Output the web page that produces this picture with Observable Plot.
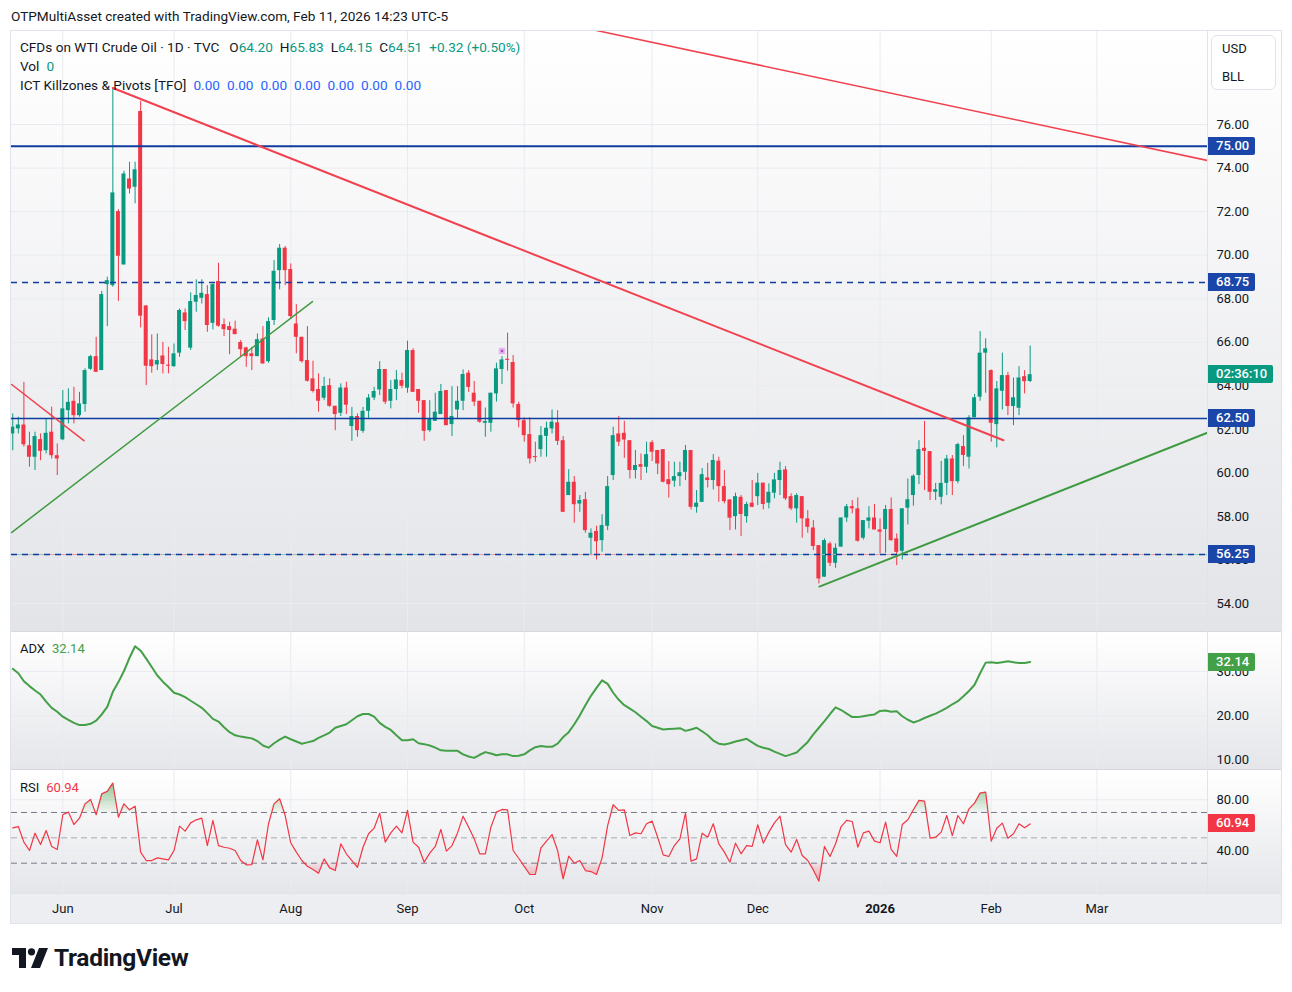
<!DOCTYPE html>
<html><head><meta charset="utf-8"><title>CFDs on WTI Crude Oil</title>
<script src="https://cdn.jsdelivr.net/npm/d3@7"></script>
<script src="https://cdn.jsdelivr.net/npm/@observablehq/plot@0.6"></script>
<style>
html,body{margin:0;padding:0;background:#fff;}
body{font-family:Roboto,"Liberation Sans","DejaVu Sans",sans-serif;color:#131722;}
#root{position:relative;width:1292px;height:992px;overflow:hidden;background:#fff;}
.a{position:absolute;}
.t{position:absolute;font-size:13px;line-height:16px;white-space:nowrap;color:#131722;}
.t.w{font-size:13.6px;}
.t span{margin-left:7px;}
.t span.n{margin-left:0;}
.badge{position:absolute;left:1208px;height:18px;line-height:18px;font-size:13px;color:#fff;padding:0 6px 0 8px;border-radius:0 2px 2px 0;white-space:nowrap;font-weight:500;}
</style></head>
<body><div id="root"></div>
<script>
// ---------------- DATA ----------------
const firstSession = "2025-05-19";
const closedDays = ["2025-05-26","2025-06-19","2025-07-03","2025-07-04","2025-09-01","2025-11-27","2025-12-25","2026-01-01","2026-01-19","2026-02-16"];
const monthNames = ["Jan","Feb","Mar","Apr","May","Jun","Jul","Aug","Sep","Oct","Nov","Dec"];

const open = [61.79,62.02,62.20,61.25,60.72,61.53,61.02,61.87,60.79,61.52,
62.86,63.29,62.63,63.14,64.76,65.34,64.70,68.65,68.60,72.00,
69.55,73.50,73.12,76.60,67.67,65.19,64.96,65.37,64.93,64.88,
65.50,67.35,65.73,67.84,68.02,68.19,66.87,68.79,66.81,66.72,
66.60,65.99,65.74,65.47,65.34,66.15,65.11,67.00,69.29,70.32,
69.34,66.84,66.23,65.16,64.32,63.83,63.43,64.01,63.06,62.74,
63.90,62.13,62.59,61.91,62.83,63.44,63.81,64.75,63.29,63.83,
64.24,63.89,65.62,63.83,63.32,61.94,62.37,62.68,63.78,62.22,
62.89,63.29,64.58,63.66,63.29,62.28,62.28,63.63,64.75,65.21,
65.07,63.14,62.40,61.76,60.74,61.07,61.68,62.02,62.30,61.48,
58.96,59.57,58.57,58.77,57.00,57.31,56.89,57.55,59.88,61.79,
61.82,61.48,60.11,60.38,60.26,61.39,61.03,61.07,59.69,59.62,
59.83,60.03,61.03,58.42,58.65,59.77,59.65,60.54,59.37,58.76,
57.99,58.88,57.99,58.61,58.91,59.53,58.61,59.07,59.65,60.14,
58.91,58.35,58.91,57.89,57.47,56.66,55.21,56.74,55.85,56.59,
57.93,58.45,58.35,57.00,57.78,57.93,57.38,57.40,58.32,56.97,
56.40,58.38,58.96,59.88,61.13,60.98,59.11,58.88,59.52,60.64,
59.60,61.21,60.72,62.53,63.48,65.50,64.70,62.22,63.75,64.47,
63.05,62.97,64.42,64.20];
const high = [62.71,62.56,64.16,61.87,61.87,61.79,62.48,63.02,61.33,63.78,
63.86,63.93,63.70,64.78,65.40,66.23,68.34,68.99,77.68,72.09,
73.86,74.27,74.27,77.07,67.67,66.34,66.38,66.00,65.77,65.92,
67.53,67.53,68.27,68.87,68.87,68.60,68.68,69.63,67.07,66.92,
66.97,66.08,65.77,65.77,66.38,66.72,67.12,69.75,70.49,70.40,
69.60,67.73,66.23,66.72,65.13,64.55,64.39,64.32,63.06,64.09,
64.17,63.01,62.71,63.01,63.60,63.93,65.11,64.75,64.24,64.70,
64.58,66.05,65.70,63.83,63.32,63.32,63.66,64.06,63.78,63.96,
63.96,64.73,64.70,64.20,63.29,62.98,63.66,65.04,65.34,66.42,
65.39,63.25,62.53,62.53,61.41,62.13,62.33,62.89,62.86,61.67,
60.15,59.83,58.96,59.11,57.43,57.55,58.08,59.83,62.10,62.59,
62.37,61.48,61.03,60.87,61.41,61.48,61.03,61.07,60.52,60.49,
60.49,61.26,61.03,59.19,60.20,60.44,60.84,60.72,60.11,58.76,
59.07,58.96,58.65,59.65,59.98,59.53,59.50,59.98,60.49,60.29,
59.04,59.04,58.91,58.27,57.81,56.66,56.97,56.82,56.74,57.93,
58.55,58.73,58.85,57.81,58.45,58.55,57.89,58.50,58.85,57.20,
58.35,59.72,59.91,61.48,62.36,60.98,59.52,60.53,60.80,60.80,
61.36,61.71,62.63,63.60,66.49,66.16,64.73,64.20,65.50,64.62,
64.36,64.88,64.70,65.83];
const low = [61.02,61.79,61.18,60.26,60.11,60.56,60.87,60.64,59.88,61.48,
62.25,62.25,62.56,62.79,64.70,64.62,64.70,66.72,68.53,67.88,
69.55,72.81,72.36,66.66,64.01,64.58,64.70,64.55,64.55,64.85,
65.31,66.54,65.62,67.38,67.76,66.46,66.57,66.69,66.26,65.43,
66.35,65.31,64.85,64.70,65.34,64.98,65.04,66.77,68.41,68.60,
67.07,65.47,65.04,64.17,63.67,62.79,63.32,63.01,61.94,62.59,
62.68,61.45,61.64,61.82,62.48,63.32,63.55,63.14,62.94,63.32,
63.86,63.66,63.70,62.74,61.45,61.87,62.37,62.68,62.17,61.67,
62.48,62.86,63.70,63.05,62.28,61.64,61.87,63.25,64.06,64.67,
62.98,62.07,61.41,60.41,60.49,60.72,60.72,61.79,61.26,58.19,
58.96,57.69,58.19,57.23,56.20,56.00,56.36,57.35,59.65,61.21,
60.67,59.72,59.72,59.65,59.98,60.52,59.92,59.54,58.84,59.34,
59.37,59.65,58.30,58.15,58.65,59.31,59.22,58.65,58.58,57.35,
57.38,57.08,57.69,58.40,58.50,58.30,58.35,58.81,58.96,58.73,
58.27,57.69,57.00,57.23,56.43,54.90,55.21,55.70,55.62,56.59,
57.73,58.12,56.82,56.92,57.43,57.38,56.28,56.31,56.86,55.74,
56.00,57.61,58.47,59.46,59.19,58.73,58.73,58.53,58.96,58.96,
59.50,60.29,60.18,62.53,63.29,63.66,61.41,61.15,62.89,62.63,
62.17,62.63,63.63,64.15];
const close = [62.10,62.20,61.29,60.72,61.67,60.99,61.82,60.79,60.64,62.94,
63.24,62.63,63.17,64.70,65.34,64.62,68.19,68.83,72.86,69.95,
73.73,73.04,73.92,67.20,64.90,64.88,65.16,64.98,64.90,65.47,
67.46,66.95,67.87,68.15,68.25,66.77,68.65,66.74,66.58,66.54,
66.35,65.66,65.34,65.34,66.12,65.01,66.95,69.26,70.32,69.29,
67.18,66.23,65.11,64.21,63.74,63.29,63.97,63.06,62.68,63.90,
63.11,62.59,61.94,62.83,63.44,63.74,64.75,63.25,63.83,64.27,
63.98,65.62,63.70,63.29,61.91,62.48,62.79,63.74,62.17,62.59,
63.29,64.52,63.93,63.25,62.33,62.36,63.66,64.78,65.19,65.17,
63.17,62.40,61.71,60.64,60.70,61.71,62.05,62.33,61.45,58.19,
59.57,58.54,58.73,57.35,57.23,56.84,57.58,59.37,61.71,61.41,
61.51,60.11,60.34,60.26,60.84,60.95,60.41,59.57,59.46,59.83,
60.01,61.03,58.42,58.61,59.92,59.65,60.57,59.37,58.68,57.92,
58.91,58.09,58.55,58.42,59.53,58.55,59.11,59.68,60.11,58.81,
58.35,58.96,57.89,57.50,56.62,55.13,56.89,55.85,56.54,57.93,
58.45,58.35,56.86,57.81,57.93,57.38,57.28,58.32,56.89,56.35,
58.35,58.77,59.85,61.07,60.99,59.11,59.23,59.52,60.64,59.60,
61.30,60.80,62.53,63.45,65.50,65.70,62.28,63.86,64.47,63.05,
63.45,64.36,64.19,64.51];

const adx = [30.6,29.6,27.8,26.7,25.7,24.8,23.2,21.8,20.9,19.8,
19.1,18.4,17.9,17.9,18.2,18.9,20.3,22.0,25.4,27.6,
30.1,33.1,35.7,34.7,32.9,31.0,29.1,27.7,26.5,25.2,
24.8,24.2,23.4,22.6,21.8,20.6,19.3,18.7,17.4,16.3,
15.6,15.3,15.1,14.9,14.3,13.3,12.8,13.8,14.6,15.3,
14.7,14.2,13.7,14.0,14.3,15.0,15.6,16.2,17.3,17.7,
18.1,19.0,19.9,20.4,20.4,19.8,18.4,17.5,16.8,15.6,
14.5,14.5,14.7,13.8,13.6,13.3,12.8,12.2,12.1,12.1,
12.1,11.3,10.8,10.5,11.2,11.8,11.5,11.1,11.3,11.3,
10.9,11.0,11.3,12.2,12.9,13.2,13.0,13.0,13.7,15.2,
16.3,18.1,20.1,22.4,24.5,26.3,28.0,27.2,25.2,23.6,
22.4,21.6,20.8,19.8,18.8,17.7,17.3,16.9,17.0,17.1,
17.2,16.6,16.9,17.3,16.5,15.6,14.4,13.7,13.5,13.8,
14.2,14.5,14.8,14.0,13.2,12.8,12.5,11.9,11.4,10.9,
11.3,11.7,12.9,14.1,15.8,17.3,18.8,20.4,21.9,21.3,
20.5,19.7,19.7,19.9,20.1,20.3,21.1,21.2,20.9,21.0,
19.9,19.1,18.5,18.9,19.5,20.0,20.5,21.1,21.8,22.6,
23.3,24.4,25.6,27.0,29.6,32.0,32.1,31.9,32.1,32.3,
32.1,31.9,31.9,32.14];

const rsi = [57.9,58.9,46.6,40.0,53.7,44.7,55.8,43.2,40.8,68.2,
70.3,60.5,65.5,76.8,80.3,68.2,84.7,86.6,93.2,66.3,
76.8,72.1,75.0,38.7,32.1,32.1,34.2,33.4,32.6,40.0,
59.2,55.3,61.8,64.2,65.5,43.9,63.7,43.9,42.6,41.8,
40.0,32.1,28.7,28.9,48.4,32.6,61.1,76.8,80.8,67.6,
46.1,38.7,32.1,27.6,25.0,22.1,33.4,26.3,24.2,45.3,
37.4,32.1,26.8,42.6,53.2,57.6,69.5,46.6,53.9,59.2,
53.9,71.6,46.6,42.6,30.8,37.9,43.2,56.6,39.5,43.9,
53.9,67.1,58.4,49.2,37.4,37.4,58.4,70.3,72.4,72.1,
40.0,33.9,27.5,21.1,21.1,42.1,47.4,52.6,40.0,17.6,
35.5,30.0,32.1,24.2,23.4,21.1,34.2,59.7,76.1,71.6,
72.1,51.8,53.9,53.2,61.1,63.2,50.5,36.6,35.3,43.9,
49.2,69.5,31.6,33.4,53.7,50.5,61.1,45.3,38.7,30.8,
45.8,37.4,43.9,43.2,60.3,45.8,54.5,61.8,67.1,44.7,
38.7,48.7,36.1,32.1,24.7,15.8,43.2,35.3,45.3,58.9,
63.7,62.9,42.6,53.9,55.3,47.4,46.1,62.4,40.8,35.3,
60.5,64.2,72.1,79.5,78.9,49.7,50.5,54.5,67.6,51.8,
67.6,61.1,72.9,77.4,85.3,86.1,47.4,57.6,61.6,49.7,
53.2,61.1,57.9,60.94];

const priceTicks = [54,56,58,60,62,64,66,68,70,72,74,76];
const adxTicks = [10,20,30];
const rsiTicks = [40,80];
const rsiBands = [70,50,30];
const solidLevels = [75, 62.5];
const dashedLevels = [68.75, 56.25];
const pivotLevels = [56.25];

// drawings: (bar index, price) anchor points
const mainDowntrend = [{bar:18, price:77.68},{bar:178.2, price:61.50}];
const upperResistance = [{bar:105, price:80.32},{bar:214.9, price:74.35}];
const earlyDowntrend = [{bar:-0.2, price:64.06},{bar:12.8, price:61.48}];
const earlySupport = [{bar:-0.23, price:57.26},{bar:53.9, price:67.87}];
const recentSupport = [{bar:145.1, price:54.78},{bar:214.9, price:61.85}];
const signalMarks = [{bar:88, price:65.60}];

const symbolTitle = "CFDs on WTI Crude Oil · 1D · TVC";
const countdownText = "02:36:10";
const ictValues = [0,0,0,0,0,0,0];
const volumeValue = 0;

// ---------------- STYLE ----------------
const FONT = 'Roboto, "Liberation Sans", "DejaVu Sans", sans-serif';
const INK = "#131722", UP = "#089981", DOWN = "#f23645";
const GRID = "#e9ebf0", NAVY = "#0f3c9f", NAVY_BADGE = "#1a46a9";
const TL_RED = "#f2414e", TL_GREEN = "#3f9b42", ADX_C = "#43a047", RSI_C = "#f23645";
const viewBars = [-0.23, 214.9];
const priceView = [52.67, 80.32];
const adxView = [7.65, 38.8];
const rsiView = [6.1, 103.1];

// ---------------- DERIVED ----------------
const sessions = [];
for (let d = new Date(firstSession + "T12:00:00Z"); sessions.length < 216; d.setUTCDate(d.getUTCDate() + 1)) {
  const wd = d.getUTCDay(); const iso = d.toISOString().slice(0, 10);
  if (wd === 0 || wd === 6 || closedDays.includes(iso)) continue;
  sessions.push(new Date(d));
}
const monthTicks = [];
sessions.forEach((d, i) => {
  if (i > 0 && d.getUTCMonth() !== sessions[i - 1].getUTCMonth() && i <= viewBars[1]) {
    const m = d.getUTCMonth();
    monthTicks.push({bar: i, label: m === 0 ? String(d.getUTCFullYear()) : monthNames[m], yearStart: m === 0});
  }
});
const candles = open.map((o, i) => ({bar: i, open: o, high: high[i], low: low[i], close: close[i]}));
const last = candles[candles.length - 1];
const prevClose = close[close.length - 2];

const root = document.getElementById("root");
function box(css, html, cls) {
  const d = document.createElement("div");
  d.className = cls || "a";
  Object.assign(d.style, css);
  if (html != null) d.innerHTML = html;
  root.appendChild(d);
  return d;
}

// backgrounds & frame
box({left:"11px", top:"31px", width:"1270px", height:"601px", background:"linear-gradient(#ffffff, #e3e4e8)"});
box({left:"11px", top:"633px", width:"1270px", height:"137px", background:"linear-gradient(#ffffff, #e5e6ea)"});
box({left:"11px", top:"771px", width:"1270px", height:"122px", background:"linear-gradient(#ffffff, #e5e6ea)"});
box({left:"11px", top:"894px", width:"1270px", height:"29px", background:"#edeef1"});

const common = (h, mb) => ({
  width: 1292, height: h, marginTop: 0, marginBottom: mb, marginLeft: 11, marginRight: 85,
  style: {background: "transparent", fontFamily: FONT, fontSize: "13px", color: INK, overflow: "visible"},
  color: {type: "identity"}
});

const candleColor = d => d.close >= d.open ? UP : DOWN;

const mainPlot = Plot.plot({
  ...common(602, 0),
  x: {domain: viewBars, axis: null},
  y: {domain: priceView, axis: "right", ticks: priceTicks, tickFormat: d => d.toFixed(2), tickSize: 0, tickPadding: 9, label: null},
  marks: [
    Plot.ruleX(monthTicks, {x: "bar", stroke: GRID}),
    Plot.ruleY(priceTicks, {stroke: GRID}),
    Plot.ruleX(candles, {x: "bar", y1: "low", y2: "high", stroke: candleColor}),
    Plot.rect(candles, {
      x1: d => d.bar - 0.36, x2: d => d.bar + 0.36,
      y1: d => Math.min(d.open, d.close),
      y2: d => Math.max(d.open, d.close, Math.min(d.open, d.close) + 0.05),
      fill: candleColor
    }),
    Plot.ruleY(pivotLevels, {stroke: "#ee9aa2", strokeWidth: 1, strokeDasharray: "6,6"}),
    Plot.ruleY(pivotLevels, {stroke: "#86c9bf", strokeWidth: 1, strokeDasharray: "6,6", strokeDashoffset: 6}),
    Plot.ruleY(dashedLevels, {stroke: NAVY, strokeWidth: 1.5, strokeDasharray: "6,5"}),
    Plot.ruleY([solidLevels[0]], {stroke: NAVY, strokeWidth: 2}),
    Plot.ruleY([solidLevels[1]], {stroke: NAVY, strokeWidth: 1.5}),
    Plot.line(upperResistance, {x: "bar", y: "price", stroke: TL_RED, strokeWidth: 1.5, clip: true}),
    Plot.line(mainDowntrend, {x: "bar", y: "price", stroke: TL_RED, strokeWidth: 2, clip: true}),
    Plot.line(earlyDowntrend, {x: "bar", y: "price", stroke: TL_RED, strokeWidth: 1.5, clip: true}),
    Plot.line(earlySupport, {x: "bar", y: "price", stroke: TL_GREEN, strokeWidth: 1.5, clip: true}),
    Plot.line(recentSupport, {x: "bar", y: "price", stroke: TL_GREEN, strokeWidth: 2, clip: true}),
    Plot.dot(signalMarks, {x: "bar", y: "price", symbol: "square", r: 2.5, fill: "#b347c4", stroke: "#e6b8ee", strokeWidth: 2})
  ]
});

const adxPlot = Plot.plot({
  ...common(138, 0),
  x: {domain: viewBars, axis: null},
  y: {domain: adxView, axis: "right", ticks: adxTicks, tickFormat: d => d.toFixed(2), tickSize: 0, tickPadding: 9, label: null},
  marks: [
    Plot.ruleX(monthTicks, {x: "bar", stroke: GRID}),
    Plot.ruleY(adxTicks, {stroke: GRID}),
    Plot.line(adx, {x: (d, i) => i, y: d => d, stroke: ADX_C, strokeWidth: 2})
  ]
});

const rsiPlot = Plot.plot({
  ...common(153, 30),
  x: {domain: viewBars, axis: null},
  y: {domain: rsiView, axis: "right", ticks: rsiTicks, tickFormat: d => d.toFixed(2), tickSize: 0, tickPadding: 9, label: null},
  marks: [
    Plot.ruleX(monthTicks, {x: "bar", stroke: GRID}),
    Plot.ruleY(rsiTicks, {stroke: GRID}),
    Plot.ruleY([rsiBands[0], rsiBands[2]], {stroke: "#787b86", strokeDasharray: "6,4"}),
    Plot.ruleY([rsiBands[1]], {stroke: "#a8abb4", strokeDasharray: "6,4"}),
    Plot.areaY(rsi, {x: (d, i) => i, y1: rsiBands[0], y2: d => Math.max(d, rsiBands[0]), fill: "url(#rsiUp)"}),
    Plot.areaY(rsi, {x: (d, i) => i, y1: d => Math.min(d, rsiBands[2]), y2: rsiBands[2], fill: "url(#rsiDown)"}),
    Plot.line(rsi, {x: (d, i) => i, y: d => d, stroke: RSI_C, strokeWidth: 1.2}),
    Plot.text(monthTicks.filter(d => !d.yearStart), {x: "bar", text: "label", frameAnchor: "bottom", dy: 19, fill: INK, fontSize: 13}),
    Plot.text(monthTicks.filter(d => d.yearStart), {x: "bar", text: "label", frameAnchor: "bottom", dy: 19, fill: INK, fontSize: 13, fontWeight: "bold"})
  ]
});

// gradient defs for RSI fills
{
  const defs = d3.select(rsiPlot).insert("defs", ":first-child");
  const up = defs.append("linearGradient").attr("id", "rsiUp").attr("x1", 0).attr("y1", 0).attr("x2", 0).attr("y2", 1);
  up.append("stop").attr("offset", "0%").attr("stop-color", "#43a047").attr("stop-opacity", 0.6);
  up.append("stop").attr("offset", "100%").attr("stop-color", "#43a047").attr("stop-opacity", 0.04);
  const dn = defs.append("linearGradient").attr("id", "rsiDown").attr("x1", 0).attr("y1", 0).attr("x2", 0).attr("y2", 1);
  dn.append("stop").attr("offset", "0%").attr("stop-color", "#f23645").attr("stop-opacity", 0.04);
  dn.append("stop").attr("offset", "100%").attr("stop-color", "#f23645").attr("stop-opacity", 0.4);
}

const panes = [[mainPlot, 30], [adxPlot, 632], [rsiPlot, 770]];
for (const [p, top] of panes) {
  p.style.position = "absolute"; p.style.left = "0px"; p.style.top = top + "px";
  root.appendChild(p);
}

// separators & frame
box({left:"11px", top:"631px", width:"1270px", height:"1px", background:"#d6d8de"});
box({left:"11px", top:"769px", width:"1270px", height:"1px", background:"#d6d8de"});
box({left:"11px", top:"893px", width:"1270px", height:"1px", background:"#e0e3eb"});
box({left:"1207px", top:"31px", width:"1px", height:"862px", background:"#e0e3eb"});
box({left:"10px", top:"30px", width:"1272px", height:"894px", border:"1px solid #e0e3eb", boxSizing:"border-box"});

// badges on the price scales
const yMain = mainPlot.scale("y"), yAdx = adxPlot.scale("y"), yRsi = rsiPlot.scale("y");
function badge(top, text, bg) {
  box({top: (top - 9) + "px", background: bg}, text, "badge");
}
[...solidLevels, ...dashedLevels].forEach(v => badge(30 + yMain.apply(v), v.toFixed(2), NAVY_BADGE));
badge(30 + yMain.apply(last.close), countdownText, UP);
badge(632 + yAdx.apply(adx[adx.length - 1]), adx[adx.length - 1].toFixed(2), ADX_C);
badge(770 + yRsi.apply(rsi[rsi.length - 1]), rsi[rsi.length - 1].toFixed(2), RSI_C);

// currency box
box({left:"1211px", top:"35px", width:"65px", height:"55px", background:"#fff", border:"1px solid #e0e3eb", borderRadius:"6px", boxSizing:"border-box"});
box({left:"1222px", top:"41px"}, "USD", "t");
box({left:"1222px", top:"69px"}, "BLL", "t");

// legends
const chg = last.close - prevClose, pct = chg / prevClose * 100;
const g = s => `<b style="font-weight:normal;color:${UP}">${s}</b>`;
box({left:"11px", top:"8px"}, "OTPMultiAsset created with TradingView.com, Feb 11, 2026 14:23 UTC-5", "t w");
box({left:"20px", top:"39px"},
  `<span class="n">${symbolTitle}</span><span style="margin-left:10px">O${g(last.open.toFixed(2))}</span><span>H${g(last.high.toFixed(2))}</span><span>L${g(last.low.toFixed(2))}</span><span>C${g(last.close.toFixed(2))}</span><span>${g((chg >= 0 ? "+" : "") + chg.toFixed(2) + " (" + (pct >= 0 ? "+" : "") + pct.toFixed(2) + "%)")}</span>`, "t w");
box({left:"20px", top:"58px"}, `<span class="n">Vol</span><span>${g(volumeValue)}</span>`, "t w");
box({left:"20px", top:"77px"}, `<span class="n">ICT Killzones &amp; Pivots [TFO]</span>` + ictValues.map(v => `<span style="color:#2962ff">${v.toFixed(2)}</span>`).join(""), "t w");
box({left:"20px", top:"641px"}, `<span class="n">ADX</span><span style="color:${ADX_C}">${adx[adx.length - 1].toFixed(2)}</span>`, "t");
box({left:"20px", top:"780px"}, `<span class="n">RSI</span><span style="color:${RSI_C}">${rsi[rsi.length - 1].toFixed(2)}</span>`, "t");

// TradingView logo
box({left:"12px", top:"948px"},
  `<svg width="36" height="20" viewBox="0 0 36 20"><path d="M0 0H14V20H7V7H0Z" fill="#131722"/><circle cx="19.5" cy="3.8" r="3.6" fill="#131722"/><path d="M27 0H36L28 20H19Z" fill="#131722"/></svg>`);
box({left:"54px", top:"943px", fontSize:"24.5px", lineHeight:"30px", fontWeight:"bold", color:"#131722", letterSpacing:"-0.3px", whiteSpace:"nowrap"}, "TradingView");
</script></body></html>
